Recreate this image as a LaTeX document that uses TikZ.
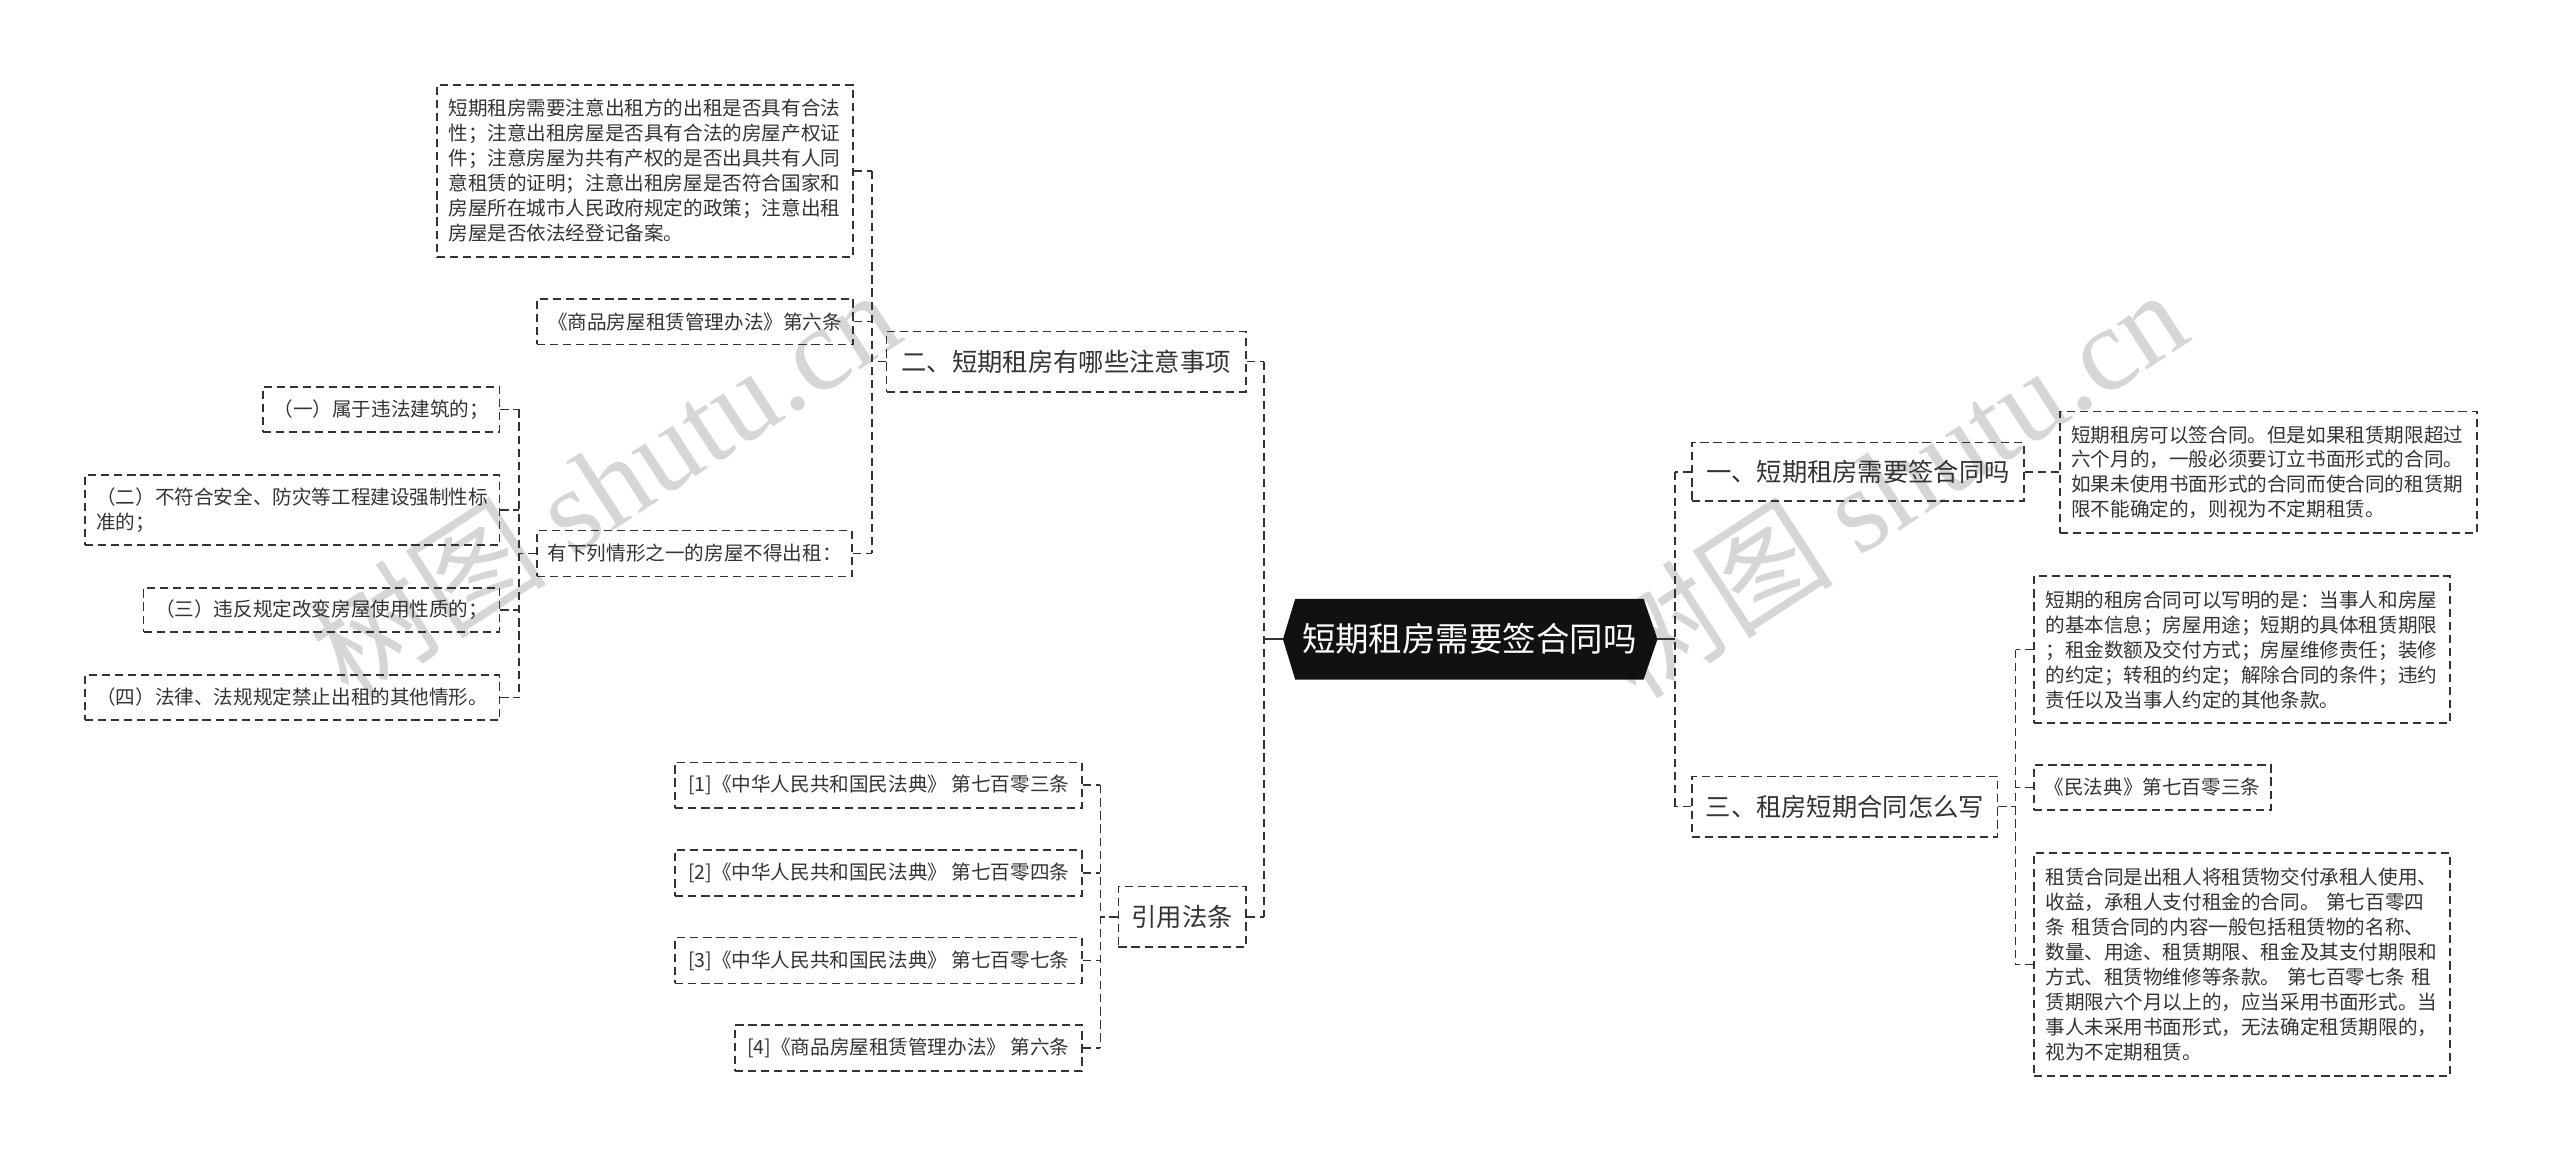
\documentclass[tikz,border=0pt]{standalone}
\usepackage{fontspec}
\setmainfont{Noto Sans CJK SC}
\newfontfamily\serifwm{Liberation Serif}
\usetikzlibrary{backgrounds}
\definecolor{linec}{HTML}{333333}
\definecolor{textc}{HTML}{333333}
\definecolor{rootc}{HTML}{111111}
\definecolor{wmc}{HTML}{D6D6D6}
\tikzset{
  dashln/.style={draw=linec, line width=1pt, dash pattern=on 5pt off 3pt},
  leafbox/.style={dashln, text=textc, font=\fontsize{12}{15.3}\selectfont, inner xsep=7pt, inner ysep=0pt, align=left, text width=#1},
  leafone/.style={dashln, text=textc, font=\fontsize{12}{15.3}\selectfont, inner sep=0pt, minimum width=#1},
  lvlbox/.style={dashln, text=textc, font=\fontsize{15.5}{18}\selectfont, inner sep=0pt, minimum width=#1, minimum height=37pt},
  conn/.style={dashln},
  rootln/.style={draw=linec, line width=1.3pt},
  rootbox/.style={text=white, font=\fontsize{20.5}{24}\selectfont, inner sep=0pt, minimum width=213pt, minimum height=49pt},
  wmtext/.style={text=wmc, font=\fontsize{73}{73}\selectfont, rotate=33, anchor=base west, inner sep=0pt},
}
\begin{document}
\begin{tikzpicture}[x=1pt,y=-1pt]
\useasboundingbox (0,0) rectangle (1568,711);

% watermarks
\begin{pgfonlayer}{background}
\node[wmtext] (wm1) at (214,430) {树图 {\serifwm shutu.cn}};
\node[wmtext] (wm2) at (1002,430) {树图 {\serifwm shutu.cn}};
\end{pgfonlayer}

% root
\node[rootbox] (root) at (900,391.5) {短期租房需要签合同吗};
\coordinate (rootL) at ([xshift=-7.5pt]root.west);
\coordinate (rootR) at ([xshift=8.5pt]root.east);
\begin{pgfonlayer}{background}
\fill[rootc] (root.north west) -- (root.north east) -- (rootR) -- (root.south east) -- (root.south west) -- (rootL) -- cycle;
\end{pgfonlayer}

% level 1
\node[lvlbox=220pt] (n2) at (653,221.5) {二、短期租房有哪些注意事项};
\node[lvlbox=78pt] (n4) at (724,561.5) {引用法条};
\node[lvlbox=203pt, minimum height=36pt] (n1) at (1138,289) {一、短期租房需要签合同吗};
\node[lvlbox=187pt] (n3) at (1130,494) {三、租房短期合同怎么写};

% leaves of n2
\node[leafbox=240.7pt, minimum height=105.4pt] (a1) at (395,104.7) {短期租房需要注意出租方的出租是否具有合法\\
性；注意出租房屋是否具有合法的房屋产权证\\
件；注意房屋为共有产权的是否出具共有人同\\
意租赁的证明；注意出租房屋是否符合国家和\\
房屋所在城市人民政府规定的政策；注意出租\\
房屋是否依法经登记备案。};
\node[leafone=193.4pt, minimum height=28pt] (a2) at (425.7,197) {《商品房屋租赁管理办法》第六条};
\node[leafone=193pt, minimum height=28pt] (a3) at (425.5,339) {有下列情形之一的房屋不得出租：};

% leaves of a3
\node[leafone=145pt, minimum height=27.5pt] (b1) at (233.5,250.75) {（一）属于违法建筑的；};
\node[leafbox=240pt, minimum height=43pt] (b2) at (179,312.5) {（二）不符合安全、防灾等工程建设强制性标\\
准的；};
\node[leafone=218pt, minimum height=27pt] (b3) at (197,373.5) {（三）违反规定改变房屋使用性质的；};
\node[leafone=254pt, minimum height=27.5pt] (b4) at (179,427.25) {（四）法律、法规规定禁止出租的其他情形。};

% leaves of n4
\node[leafone=249.1pt, minimum height=28pt] (c1) at (538.15,481) {[1]《中华人民共和国民法典》 第七百零三条};
\node[leafone=249.1pt, minimum height=28pt] (c2) at (538.15,534.8) {[2]《中华人民共和国民法典》 第七百零四条};
\node[leafone=249.1pt, minimum height=28pt] (c3) at (538.15,588.3) {[3]《中华人民共和国民法典》 第七百零七条};
\node[leafone=212.7pt, minimum height=28pt] (c4) at (556.35,642) {[4]《商品房屋租赁管理办法》 第六条};

% leaf of n1
\node[leafbox=241.3pt, minimum height=74.5pt] (d1) at (1389.35,289.25) {短期租房可以签合同。但是如果租赁期限超过\\
六个月的，一般必须要订立书面形式的合同。\\
如果未使用书面形式的合同而使合同的租赁期\\
限不能确定的，则视为不定期租赁。};

% leaves of n3
\node[leafbox=240.8pt, minimum height=90.2pt] (e1) at (1373.2,397.9) {短期的租房合同可以写明的是：当事人和房屋\\
的基本信息；房屋用途；短期的具体租赁期限\\
；租金数额及交付方式；房屋维修责任；装修\\
的约定；转租的约定；解除合同的条件；违约\\
责任以及当事人约定的其他条款。};
\node[leafone=145.2pt, minimum height=27.4pt] (e2) at (1318.4,482.3) {《民法典》第七百零三条};
\node[leafbox=240.8pt, minimum height=136.5pt] (e3) at (1373.2,590.8) {租赁合同是出租人将租赁物交付承租人使用、\\
收益，承租人支付租金的合同。 第七百零四\\
条 租赁合同的内容一般包括租赁物的名称、\\
数量、用途、租赁期限、租金及其支付期限和\\
方式、租赁物维修等条款。 第七百零七条 租\\
赁期限六个月以上的，应当采用书面形式。当\\
事人未采用书面形式，无法确定租赁期限的，\\
视为不定期租赁。};

% connectors: root
\coordinate (busL) at (774,391.5);
\coordinate (busR) at (1026,391.5);
\draw[rootln] (rootL) -- (busL);
\draw[rootln] (rootR) -- (busR);
\draw[conn] (busL |- n2.east) -- (busL |- n4.east);
\draw[conn] (n2.east) -- (busL |- n2.east);
\draw[conn] (n4.east) -- (busL |- n4.east);
\draw[conn] (busR |- n1.west) -- (busR |- n3.west);
\draw[conn] (n1.west) -- (busR |- n1.west);
\draw[conn] (n3.west) -- (busR |- n3.west);

% n2 group
\coordinate (bus2) at (534,0);
\draw[conn] (n2.west) -- (bus2 |- n2.west);
\draw[conn] (bus2 |- a1.east) -- (bus2 |- a3.east);
\foreach \n in {a1,a2,a3} \draw[conn] (\n.east) -- (bus2 |- \n.east);

% a3 group
\coordinate (bus3) at (318,0);
\draw[conn] (a3.west) -- (bus3 |- a3.west);
\draw[conn] (bus3 |- b1.east) -- (bus3 |- b4.east);
\foreach \n in {b1,b2,b3,b4} \draw[conn] (\n.east) -- (bus3 |- \n.east);

% n4 group
\coordinate (bus4) at (674,0);
\draw[conn] (n4.west) -- (bus4 |- n4.west);
\draw[conn] (bus4 |- c1.east) -- (bus4 |- c4.east);
\foreach \n in {c1,c2,c3,c4} \draw[conn] (\n.east) -- (bus4 |- \n.east);

% n1 group
\draw[conn] (n1.east) -- (n1.east -| d1.west);

% n3 group
\coordinate (bus5) at (1234.5,0);
\draw[conn] (n3.east) -- (bus5 |- n3.east);
\draw[conn] (bus5 |- e1.west) -- (bus5 |- e3.west);
\foreach \n in {e1,e2,e3} \draw[conn] (\n.west) -- (bus5 |- \n.west);
\end{tikzpicture}
\end{document}
